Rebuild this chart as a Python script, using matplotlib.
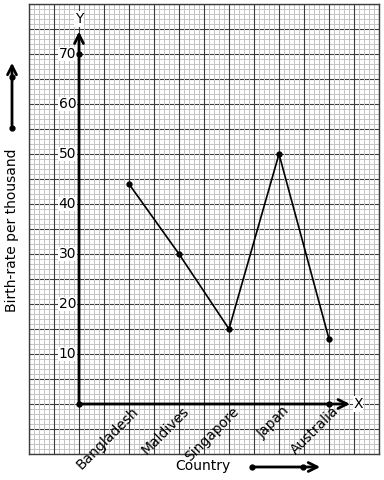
import numpy as np
import matplotlib
matplotlib.use('Agg')
import matplotlib.pyplot as plt

# data
countries = ['Bangladesh', 'Maldives', 'Singapore', 'Japan', 'Australia']
birth_rate = [44, 30, 15, 50, 13]
y_ticks = [10, 20, 30, 40, 50, 60, 70]

major_col = '#3c3c3c'
minor_col = '#c4c4c4'


def main():
    fig = plt.figure(figsize=(3.84, 4.8), dpi=100)
    ax = fig.add_axes([29 / 384, 26 / 480, 350 / 384, 450 / 480])
    ax.set_xlim(-1, 6)
    ax.set_ylim(-10, 80)
    ax.set_xticks([])
    ax.set_yticks([])
    for s in ax.spines.values():
        s.set_color(major_col)
        s.set_linewidth(1.0)

    # graph paper grid: horizontal first, vertical on top
    for y in np.arange(-10, 80.1, 1):
        ax.axhline(y, color=minor_col, linewidth=0.72, zorder=0.1)
    for y in np.arange(-10, 80.1, 5):
        ax.axhline(y, color=major_col, linewidth=0.8, zorder=0.2)
    for x in np.arange(-1, 6.01, 0.1):
        ax.axvline(x, color=minor_col, linewidth=0.72, zorder=0.3)
    for x in np.arange(-1, 6.01, 0.5):
        ax.axvline(x, color=major_col, linewidth=0.8, zorder=0.4)

    # axes with arrows
    xs = np.arange(1, len(countries) + 1)
    ax.annotate('', xy=(0, 74.5), xytext=(0, 0),
                arrowprops=dict(arrowstyle='->', color='black', lw=2,
                                mutation_scale=16, shrinkA=0, shrinkB=0))
    ax.annotate('', xy=(xs[-1] + 0.42, 0), xytext=(0, 0),
                arrowprops=dict(arrowstyle='->', color='black', lw=2,
                                mutation_scale=16, shrinkA=0, shrinkB=0))
    ax.text(0, 77, 'Y', ha='center', va='center', fontsize=10,
            bbox=dict(facecolor='white', edgecolor='none', pad=0.5))
    ax.text(xs[-1] + 0.58, 0, 'X', ha='center', va='center', fontsize=10,
            bbox=dict(facecolor='white', edgecolor='none', pad=0.5))

    # tick labels
    for v in y_ticks:
        ax.annotate(str(v), xy=(0, v), xytext=(-2, 0), textcoords='offset points',
                    ha='right', va='center', fontsize=10,
                    bbox=dict(facecolor='white', edgecolor='none', pad=0.3))
    for x, name in zip(xs, countries):
        ax.annotate(name, xy=(x, 0), xytext=(2, 0), textcoords='offset points',
                    ha='right', va='top', rotation=45, rotation_mode='anchor',
                    fontsize=10)

    # dots on the axes
    ax.plot([0, 0, xs[-1]], [0, y_ticks[-1], 0], 'o', color='black',
            markersize=3.5, zorder=5)

    # data line
    ax.plot(xs, birth_rate, color='black', linewidth=1.2, marker='o',
            markersize=3.5, zorder=5)

    # outside labels
    fig.text(12 / 384, 1 - 230 / 480, 'Birth-rate per thousand', rotation=90,
             ha='center', va='center', fontsize=10)
    fig.text(203 / 384, 1 - 466 / 480, 'Country', ha='center', va='center',
             fontsize=10)

    # direction arrows in the margins
    fig.add_artist(matplotlib.patches.FancyArrowPatch(
        (12 / 384, 1 - 128 / 480), (12 / 384, 1 - 60 / 480),
        transform=fig.transFigure, arrowstyle='->', color='black', lw=2,
        mutation_scale=16))
    fig.add_artist(plt.Line2D([12 / 384, 12 / 384], [1 - 77 / 480, 1 - 128 / 480],
                              transform=fig.transFigure, linestyle='none',
                              marker='o', markersize=3.5, color='black'))
    fig.add_artist(matplotlib.patches.FancyArrowPatch(
        (252 / 384, 1 - 467 / 480), (323 / 384, 1 - 467 / 480),
        transform=fig.transFigure, arrowstyle='->', color='black', lw=2,
        mutation_scale=16))
    fig.add_artist(plt.Line2D([252 / 384, 303 / 384], [1 - 467 / 480, 1 - 467 / 480],
                              transform=fig.transFigure, linestyle='none',
                              marker='o', markersize=3.5, color='black'))

    fig.savefig('out.png', dpi=100)


if __name__ == "__main__":
    main()
